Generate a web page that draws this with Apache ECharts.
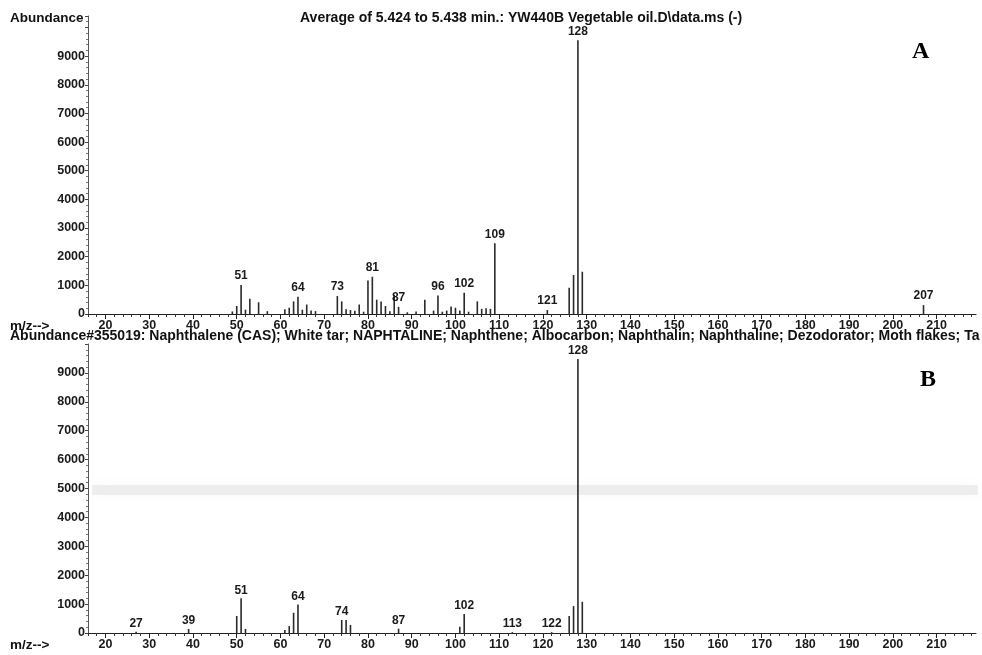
<!DOCTYPE html>
<html>
<head>
<meta charset="utf-8">
<script src="https://cdn.jsdelivr.net/npm/echarts@6/dist/echarts.min.js"></script>
<style>
html,body{margin:0;padding:0;background:#fff;}
#chart{width:982px;height:655px;}
</style>
</head>
<body>
<div id="chart"></div>
<script>
// ---- Panel A (sample spectrum) ----
const topMz    = [49, 50, 51, 52, 53, 55, 57, 61, 62, 63, 64, 65, 66, 67, 68, 73, 74, 75, 76, 77, 78, 79, 80, 81, 82, 83, 84, 85, 86, 87, 89, 91, 93, 95, 96, 97, 98, 99, 100, 101, 102, 103, 105, 106, 107, 108, 109, 121, 126, 127, 128, 129, 207];
const topAbund = [90, 280, 1010, 150, 530, 410, 100, 170, 220, 440, 600, 150, 330, 120, 100, 630, 440, 170, 140, 110, 330, 80, 1170, 1300, 500, 440, 280, 100, 660, 250, 60, 90, 500, 120, 650, 80, 120, 260, 220, 120, 745, 80, 440, 180, 200, 180, 2470, 140, 920, 1360, 9550, 1475, 310];
const topLabeled = [51, 64, 73, 81, 87, 96, 102, 109, 121, 128, 207];

// ---- Panel B (library spectrum #355019) ----
const botMz    = [27, 39, 50, 51, 52, 61, 62, 63, 64, 74, 75, 76, 87, 101, 102, 113, 122, 126, 127, 128, 129];
const botAbund = [40, 140, 590, 1200, 140, 100, 240, 700, 990, 450, 450, 280, 150, 220, 660, 30, 30, 590, 930, 9480, 1080];
const botLabeled = [27, 39, 51, 64, 74, 87, 102, 113, 122, 128];

// ---- Axes ----
const xTickLabels = [20, 30, 40, 50, 60, 70, 80, 90, 100, 110, 120, 130, 140, 150, 160, 170, 180, 190, 200, 210];
const xMinorTicks = [16, 18, 20, 22, 24, 26, 28, 30, 32, 34, 36, 38, 40, 42, 44, 46, 48, 50, 52, 54, 56, 58, 60, 62, 64, 66, 68, 70, 72, 74, 76, 78, 80, 82, 84, 86, 88, 90, 92, 94, 96, 98, 100, 102, 104, 106, 108, 110, 112, 114, 116, 118, 120, 122, 124, 126, 128, 130, 132, 134, 136, 138, 140, 142, 144, 146, 148, 150, 152, 154, 156, 158, 160, 162, 164, 166, 168, 170, 172, 174, 176, 178, 180, 182, 184, 186, 188, 190, 192, 194, 196, 198, 200, 202, 204, 206, 208, 210, 212, 214, 216, 218];
const yTickLabels = [0, 1000, 2000, 3000, 4000, 5000, 6000, 7000, 8000, 9000];

const titleTop = 'Average of 5.424 to 5.438 min.: YW440B Vegetable oil.D\\data.ms (-)';
const titleBot = 'Abundance#355019: Naphthalene (CAS); White tar; NAPHTALINE; Naphthene; Albocarbon; Naphthalin; Naphthaline; Dezodorator; Moth flakes; Ta';

const FONT = '"Liberation Sans", Arial, sans-serif';
const HDR = 'bold 14px ' + FONT;
const SMALL = 'bold 13.5px ' + FONT;

function mkData(mz, ab, labeled, dist) {
  return mz.map((m, i) => ({
    value: [m, ab[i]],
    label: { show: labeled.includes(m), distance: dist }
  }));
}

function xAxisFor(gi) {
  return [{
    type: 'value', gridIndex: gi, min: 16, max: 219,
    axisLine: { show: true, onZero: false, lineStyle: { color: '#222', width: 1.2 } },
    axisTick: { show: true, customValues: xMinorTicks, length: 3, lineStyle: { color: '#333' } },
    axisLabel: { show: true, customValues: xTickLabels, margin: 5, fontSize: 12.5, fontWeight: 'bold', color: '#1a1a1a', fontFamily: FONT },
    splitLine: { show: false }
  }, {
    type: 'value', gridIndex: gi, min: 16, max: 219, position: 'bottom',
    axisLine: { show: false },
    axisTick: { show: true, customValues: xTickLabels, length: 5, lineStyle: { color: '#222' } },
    axisLabel: { show: false },
    splitLine: { show: false }
  }];
}

function yAxisFor(gi, max) {
  return {
    type: 'value', gridIndex: gi, min: 0, max: max, interval: 1000,
    axisLine: { show: true, lineStyle: { color: '#555', width: 1 } },
    axisTick: { show: true, length: 3, lineStyle: { color: '#444' } },
    minorTick: { show: true, splitNumber: 5, length: 2, lineStyle: { color: '#777' } },
    axisLabel: {
      margin: 3, fontSize: 12.5, fontWeight: 'bold', color: '#1a1a1a', fontFamily: FONT,
      formatter: v => (yTickLabels.includes(v) ? String(v) : '')
    },
    splitLine: { show: false }
  };
}

const labelStyle = { position: 'top', fontSize: 12, fontWeight: 'bold', color: '#1a1a1a', fontFamily: FONT, formatter: p => String(p.value[0]) };

const chart = echarts.init(document.getElementById('chart'), null, { renderer: 'canvas' });
chart.setOption({
  animation: false,
  backgroundColor: '#ffffff',
  grid: [
    { left: 88, top: 16, width: 888, height: 298 },
    { left: 88, top: 344, width: 888, height: 289 }
  ],
  xAxis: [...xAxisFor(0), ...xAxisFor(1)],
  yAxis: [yAxisFor(0, 10400), yAxisFor(1, 10000)],
  series: [
    {
      type: 'bar', xAxisIndex: 0, yAxisIndex: 0, barWidth: 1.6,
      itemStyle: { color: '#2a2a2a' },
      label: labelStyle,
      data: mkData(topMz, topAbund, topLabeled, 3)
    },
    {
      type: 'bar', xAxisIndex: 2, yAxisIndex: 1, barWidth: 1.6,
      itemStyle: { color: '#2a2a2a' },
      label: labelStyle,
      data: mkData(botMz, botAbund, botLabeled, 2)
    }
  ],
  graphic: [
    { type: 'rect', silent: true, z: -1, shape: { x: 92, y: 485, width: 886, height: 10 },
      style: { fill: 'rgba(160,160,160,0.16)', shadowBlur: 14, shadowColor: 'rgba(150,150,150,0.35)' } },
    { type: 'text', left: 10, top: 11, style: { text: 'Abundance', font: SMALL, fill: '#111' } },
    { type: 'text', left: 300, top: 11, style: { text: titleTop, font: HDR, fill: '#111' } },
    { type: 'text', left: 10, top: 319, style: { text: 'm/z-->', font: SMALL, fill: '#111' } },
    { type: 'text', left: 10, top: 329, style: { text: titleBot, font: HDR, fill: '#111' } },
    { type: 'text', left: 10, top: 638, style: { text: 'm/z-->', font: SMALL, fill: '#111' } },
    { type: 'text', left: 912, top: 40, style: { text: 'A', font: 'bold 24px "Liberation Serif", "DejaVu Serif", serif', fill: '#000' } },
    { type: 'text', left: 920, top: 368, style: { text: 'B', font: 'bold 24px "Liberation Serif", "DejaVu Serif", serif', fill: '#000' } }
  ]
});
</script>
</body>
</html>
